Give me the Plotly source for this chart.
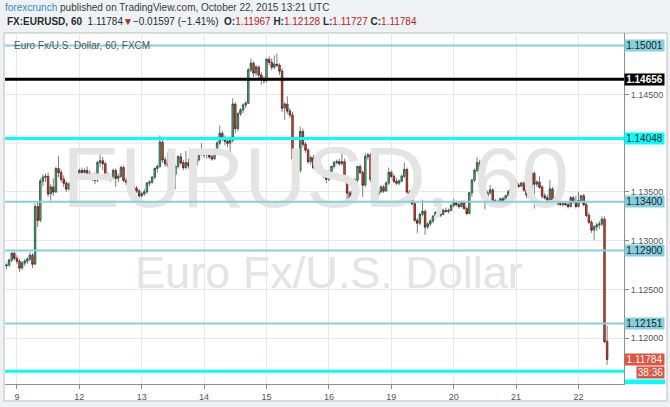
import plotly.graph_objects as go
import pandas as pd

# ---------------- data (hourly EURUSD candles, FXCM) ----------------
opens = [
    1.1274, 1.1275, 1.1280, 1.1287, 1.1282, 1.1279, 1.1272, 1.1277, 1.1279, 1.1281,
    1.1285, 1.1276, 1.1335, 1.1321, 1.1361, 1.1365, 1.1366, 1.1348, 1.1355, 1.1350,
    1.1374, 1.1370, 1.1363, 1.1359, 1.1353, 1.1358, 1.1360, 1.1364, 1.1366, 1.1372,
    1.1370, 1.1372, 1.1369, 1.1365, 1.1367, 1.1362, 1.1380, 1.1382, 1.1379, 1.1366,
    1.1364, 1.1366, 1.1372, 1.1364, 1.1366, 1.1375, 1.1362, 1.1360, 1.1356, 1.1353,
    1.1354, 1.1351, 1.1346, 1.1348, 1.1350, 1.1359, 1.1360, 1.1365, 1.1374, 1.1376,
    1.1401, 1.1383, 1.1379, 1.1377, 1.1370, 1.1368, 1.1376, 1.1386, 1.1380, 1.1375,
    1.1380, 1.1377, 1.1379, 1.1377, 1.1383, 1.1393, 1.1390, 1.1388, 1.1390, 1.1386,
    1.1384, 1.1391, 1.1400, 1.1410, 1.1404, 1.1402, 1.1400, 1.1403, 1.1440, 1.1415,
    1.1430, 1.1434, 1.1439, 1.1441, 1.1475, 1.1482, 1.1472, 1.1478, 1.1470, 1.1466,
    1.1464, 1.1486, 1.1483, 1.1478, 1.1481, 1.1480, 1.1474, 1.1436, 1.1440, 1.1433,
    1.1429, 1.1384, 1.1370, 1.1372, 1.1412, 1.1399, 1.1393, 1.1381, 1.1385, 1.1375,
    1.1378, 1.1376, 1.1370, 1.1366, 1.1363, 1.1370, 1.1376, 1.1380, 1.1381, 1.1379,
    1.1381, 1.1362, 1.1349, 1.1342, 1.1350, 1.1362, 1.1376, 1.1370, 1.1357, 1.1386,
    1.1388, 1.1363, 1.1353, 1.1347, 1.1350, 1.1355, 1.1351, 1.1359, 1.1370, 1.1366,
    1.1361, 1.1359, 1.1361, 1.1366, 1.1373, 1.1350, 1.1348, 1.1338, 1.1321, 1.1318,
    1.1327, 1.1330, 1.1314, 1.1317, 1.1320, 1.1325, 1.1329, 1.1326, 1.1327, 1.1331,
    1.1330, 1.1331, 1.1336, 1.1339, 1.1337, 1.1335, 1.1339, 1.1333, 1.1328, 1.1349,
    1.1362, 1.1372, 1.1380, 1.1369, 1.1354, 1.1342, 1.1349, 1.1352, 1.1341, 1.1338,
    1.1340, 1.1343, 1.1337, 1.1346, 1.1350, 1.1353, 1.1360, 1.1357, 1.1356, 1.1359,
    1.1352, 1.1347, 1.1345, 1.1369, 1.1358, 1.1360, 1.1355, 1.1346, 1.1344, 1.1342,
    1.1353, 1.1342, 1.1339, 1.1338, 1.1337, 1.1338, 1.1337, 1.1335, 1.1344, 1.1340,
    1.1335, 1.1341, 1.1346, 1.1337, 1.1326, 1.1319, 1.1311, 1.1314, 1.1316, 1.1317,
    1.1322, 1.11967,
]
highs = [
    1.1277, 1.1281, 1.1288, 1.1289, 1.1285, 1.1281, 1.1279, 1.1281, 1.1283, 1.1288,
    1.1287, 1.1338, 1.1340, 1.1364, 1.1368, 1.1369, 1.1370, 1.1358, 1.1364, 1.1376,
    1.1387, 1.1373, 1.1367, 1.1361, 1.1360, 1.1362, 1.1366, 1.1368, 1.1374, 1.1375,
    1.1374, 1.1376, 1.1372, 1.1369, 1.1370, 1.1382, 1.1395, 1.1386, 1.1381, 1.1370,
    1.1368, 1.1374, 1.1374, 1.1369, 1.1377, 1.1377, 1.1365, 1.1362, 1.1358, 1.1357,
    1.1356, 1.1353, 1.1350, 1.1353, 1.1360, 1.1362, 1.1366, 1.1375, 1.1378, 1.1408,
    1.1403, 1.1386, 1.1390, 1.1380, 1.1373, 1.1378, 1.1388, 1.1390, 1.1383, 1.1392,
    1.1384, 1.1381, 1.1383, 1.1385, 1.1394, 1.1400, 1.1394, 1.1392, 1.1393, 1.1389,
    1.1392, 1.1402, 1.1418, 1.1413, 1.1408, 1.1405, 1.1403, 1.1446, 1.1442, 1.1432,
    1.1436, 1.1441, 1.1443, 1.1477, 1.1487, 1.1484, 1.1480, 1.1480, 1.1473, 1.1469,
    1.1487, 1.1489, 1.1487, 1.1490, 1.1492, 1.1482, 1.1477, 1.1442, 1.1448, 1.1436,
    1.1432, 1.1386, 1.1375, 1.1417, 1.1415, 1.1401, 1.1395, 1.1387, 1.1388, 1.1380,
    1.1380, 1.1378, 1.1372, 1.1368, 1.1372, 1.1377, 1.1382, 1.1383, 1.1384, 1.1393,
    1.1384, 1.1364, 1.1351, 1.1352, 1.1364, 1.1377, 1.1378, 1.1372, 1.1390, 1.1390,
    1.1390, 1.1365, 1.1356, 1.1352, 1.1357, 1.1357, 1.1361, 1.1375, 1.1372, 1.1368,
    1.1364, 1.1363, 1.1368, 1.1380, 1.1375, 1.1352, 1.1350, 1.1340, 1.1323, 1.1328,
    1.1342, 1.1332, 1.1319, 1.1322, 1.1326, 1.1330, 1.1331, 1.1329, 1.1333, 1.1334,
    1.1333, 1.1338, 1.1343, 1.1341, 1.1339, 1.1341, 1.1341, 1.1335, 1.1350, 1.1363,
    1.1374, 1.1386, 1.1383, 1.1371, 1.1356, 1.1351, 1.1357, 1.1354, 1.1343, 1.1342,
    1.1344, 1.1345, 1.1347, 1.1352, 1.1354, 1.1367, 1.1362, 1.1359, 1.1360, 1.1361,
    1.1354, 1.1350, 1.1375, 1.1371, 1.1362, 1.1366, 1.1357, 1.1349, 1.1347, 1.1362,
    1.1355, 1.1344, 1.1341, 1.1340, 1.1339, 1.1340, 1.1339, 1.1346, 1.1346, 1.1346,
    1.1350, 1.1347, 1.1348, 1.1339, 1.1329, 1.1321, 1.1316, 1.1318, 1.1320, 1.1325,
    1.1325, 1.12128,
]
lows = [
    1.1271, 1.1273, 1.1278, 1.1280, 1.1276, 1.1268, 1.1270, 1.1274, 1.1276, 1.1279,
    1.1272, 1.1275, 1.1314, 1.1319, 1.1356, 1.1360, 1.1345, 1.1341, 1.1346, 1.1349,
    1.1365, 1.1360, 1.1355, 1.1350, 1.1351, 1.1356, 1.1357, 1.1361, 1.1364, 1.1368,
    1.1367, 1.1368, 1.1363, 1.1361, 1.1358, 1.1360, 1.1376, 1.1372, 1.1362, 1.1362,
    1.1361, 1.1363, 1.1355, 1.1360, 1.1364, 1.1360, 1.1357, 1.1354, 1.1351, 1.1350,
    1.1349, 1.1343, 1.1344, 1.1346, 1.1348, 1.1356, 1.1358, 1.1363, 1.1370, 1.1375,
    1.1380, 1.1376, 1.1375, 1.1366, 1.1360, 1.1353, 1.1374, 1.1378, 1.1372, 1.1373,
    1.1374, 1.1373, 1.1375, 1.1376, 1.1381, 1.1387, 1.1385, 1.1384, 1.1384, 1.1382,
    1.1383, 1.1389, 1.1398, 1.1402, 1.1398, 1.1396, 1.1390, 1.1401, 1.1410, 1.1412,
    1.1428, 1.1431, 1.1436, 1.1440, 1.1473, 1.1468, 1.1469, 1.1467, 1.1460, 1.1461,
    1.1462, 1.1480, 1.1475, 1.1476, 1.1478, 1.1470, 1.1432, 1.1424, 1.1430, 1.1426,
    1.1380, 1.1366, 1.1365, 1.1370, 1.1396, 1.1390, 1.1379, 1.1378, 1.1373, 1.1373,
    1.1374, 1.1368, 1.1364, 1.1359, 1.1361, 1.1369, 1.1374, 1.1378, 1.1377, 1.1377,
    1.1360, 1.1335, 1.1340, 1.1340, 1.1348, 1.1360, 1.1368, 1.1345, 1.1355, 1.1383,
    1.1360, 1.1350, 1.1344, 1.1345, 1.1349, 1.1349, 1.1350, 1.1357, 1.1364, 1.1359,
    1.1357, 1.1357, 1.1360, 1.1364, 1.1348, 1.1345, 1.1336, 1.1319, 1.1308, 1.1316,
    1.1325, 1.1306, 1.1312, 1.1315, 1.1318, 1.1323, 1.1324, 1.1324, 1.1326, 1.1329,
    1.1328, 1.1330, 1.1334, 1.1335, 1.1333, 1.1334, 1.1332, 1.1326, 1.1327, 1.1345,
    1.1360, 1.1370, 1.1367, 1.1352, 1.1332, 1.1340, 1.1347, 1.1339, 1.1336, 1.1337,
    1.1337, 1.1336, 1.1336, 1.1345, 1.1348, 1.1352, 1.1354, 1.1354, 1.1355, 1.1350,
    1.1344, 1.1343, 1.1344, 1.1333, 1.1355, 1.1353, 1.1343, 1.1342, 1.1340, 1.1341,
    1.1340, 1.1337, 1.1336, 1.1336, 1.1335, 1.1336, 1.1333, 1.1334, 1.1338, 1.1333,
    1.1334, 1.1339, 1.1335, 1.1324, 1.1317, 1.1308, 1.1301, 1.1310, 1.1312, 1.1315,
    1.1195, 1.11727,
]
closes = [
    1.1275, 1.1280, 1.1287, 1.1282, 1.1279, 1.1272, 1.1277, 1.1279, 1.1281, 1.1285,
    1.1276, 1.1335, 1.1321, 1.1361, 1.1365, 1.1366, 1.1348, 1.1355, 1.1350, 1.1374,
    1.1370, 1.1363, 1.1359, 1.1353, 1.1358, 1.1360, 1.1364, 1.1366, 1.1372, 1.1370,
    1.1372, 1.1369, 1.1365, 1.1367, 1.1362, 1.1380, 1.1382, 1.1379, 1.1366, 1.1364,
    1.1366, 1.1372, 1.1364, 1.1366, 1.1375, 1.1362, 1.1360, 1.1356, 1.1353, 1.1354,
    1.1351, 1.1346, 1.1348, 1.1350, 1.1359, 1.1360, 1.1365, 1.1374, 1.1376, 1.1401,
    1.1383, 1.1379, 1.1377, 1.1370, 1.1368, 1.1376, 1.1386, 1.1380, 1.1375, 1.1380,
    1.1377, 1.1379, 1.1377, 1.1383, 1.1393, 1.1390, 1.1388, 1.1390, 1.1386, 1.1384,
    1.1391, 1.1400, 1.1410, 1.1404, 1.1402, 1.1400, 1.1403, 1.1440, 1.1415, 1.1430,
    1.1434, 1.1439, 1.1441, 1.1475, 1.1482, 1.1472, 1.1478, 1.1470, 1.1466, 1.1464,
    1.1486, 1.1483, 1.1478, 1.1481, 1.1480, 1.1474, 1.1436, 1.1440, 1.1433, 1.1429,
    1.1384, 1.1370, 1.1372, 1.1412, 1.1399, 1.1393, 1.1381, 1.1385, 1.1375, 1.1378,
    1.1376, 1.1370, 1.1366, 1.1363, 1.1370, 1.1376, 1.1380, 1.1381, 1.1379, 1.1381,
    1.1362, 1.1349, 1.1342, 1.1350, 1.1362, 1.1376, 1.1370, 1.1357, 1.1386, 1.1388,
    1.1363, 1.1353, 1.1347, 1.1350, 1.1355, 1.1351, 1.1359, 1.1370, 1.1366, 1.1361,
    1.1359, 1.1361, 1.1366, 1.1373, 1.1350, 1.1348, 1.1338, 1.1321, 1.1318, 1.1327,
    1.1330, 1.1314, 1.1317, 1.1320, 1.1325, 1.1329, 1.1326, 1.1327, 1.1331, 1.1330,
    1.1331, 1.1336, 1.1339, 1.1337, 1.1335, 1.1339, 1.1333, 1.1328, 1.1349, 1.1362,
    1.1372, 1.1380, 1.1369, 1.1354, 1.1342, 1.1349, 1.1352, 1.1341, 1.1338, 1.1340,
    1.1343, 1.1337, 1.1346, 1.1350, 1.1353, 1.1360, 1.1357, 1.1356, 1.1359, 1.1352,
    1.1347, 1.1345, 1.1369, 1.1358, 1.1360, 1.1355, 1.1346, 1.1344, 1.1342, 1.1353,
    1.1342, 1.1339, 1.1338, 1.1337, 1.1338, 1.1337, 1.1335, 1.1344, 1.1340, 1.1335,
    1.1341, 1.1346, 1.1337, 1.1326, 1.1319, 1.1311, 1.1314, 1.1316, 1.1317, 1.1322,
    1.11967, 1.11784,
]

first_bar = "2015-10-08 20:00"
last_bar = "2015-10-22 11:00"

day_ticks = ["2015-10-09", "2015-10-12", "2015-10-13", "2015-10-14", "2015-10-15",
             "2015-10-16", "2015-10-19", "2015-10-20", "2015-10-21", "2015-10-22"]
day_labels = ["9", "12", "13", "14", "15", "16", "19", "20", "21", "22"]

price_ticks = [1.12, 1.125, 1.13, 1.135, 1.145]      # labelled price-scale ticks
hidden_grid = [1.14, 1.15]                           # grid rows whose labels are covered

level_prices = [1.15001, 1.14656, 1.14048, 1.13400, 1.12900, 1.12151, 1.11662]
level_kinds = ["blue", "black", "cyan", "blue", "blue", "blue", "cyan"]
level_labelled = [True, True, True, True, True, True, False]

last_price = 1.11784
countdown = "38:36"
countdown_price = 1.11643

symbol = "EURUSD, 60"
description = "Euro Fx/U.S. Dollar"
source_title = "Euro Fx/U.S. Dollar, 60, FXCM"

# ---------------- build ----------------
all_hours = pd.date_range(first_bar, last_bar, freq="h")
bar_times = all_hours[all_hours.dayofweek < 5]

W, H = 670, 407
ML, MR, MT, MB = 5, 46, 33, 23
PW, PH = W - ML - MR, H - MT - MB


def fx(px):
    return (px - ML) / PW


def fy(py):
    return (H - MB - py) / PH


FONT = "Liberation Sans, Arial, sans-serif"
UP_FILL, UP_LINE = "#6ba583", "#225437"
DN_FILL, DN_LINE = "#d75442", "#5b1a13"
WICK = "#7d7d80"
LBLUE = "#86cfdf"
CYAN = "#00ffff"
RED = "#e0533f"
GRID = "#e8e8e8"

styles = {
    "blue": dict(line=LBLUE, width=2, bg=LBLUE, fg="#1e1e1e"),
    "black": dict(line="#000000", width=3, bg="#000000", fg="#ffffff"),
    "cyan": dict(line=CYAN, width=3, bg=CYAN, fg="#1e1e1e"),
}

fig = go.Figure()

# watermark (behind candles)
fig.add_trace(go.Scatter(
    x=[bar_times[119]], y=[1.1357], mode="text", text=[symbol],
    textfont=dict(family=FONT, size=86, color="#e4e4e4"),
    hoverinfo="skip", showlegend=False, cliponaxis=False))
fig.add_trace(go.Scatter(
    x=[bar_times[124]], y=[1.1263], mode="text", text=[description],
    textfont=dict(family=FONT, size=45, color="#e4e4e4"),
    hoverinfo="skip", showlegend=False, cliponaxis=False))

# wicks
fig.add_trace(go.Candlestick(
    x=bar_times, open=closes, high=highs, low=lows, close=closes,
    increasing=dict(line=dict(color=WICK, width=1), fillcolor=WICK),
    decreasing=dict(line=dict(color=WICK, width=1), fillcolor=WICK),
    whiskerwidth=0, hoverinfo="skip", showlegend=False))

# bodies
body_hi = [max(o, c) for o, c in zip(opens, closes)]
body_lo = [min(o, c) for o, c in zip(opens, closes)]
fig.add_trace(go.Candlestick(
    x=bar_times, open=opens, high=body_hi, low=body_lo, close=closes,
    increasing=dict(line=dict(color=UP_LINE, width=0.8), fillcolor=UP_FILL),
    decreasing=dict(line=dict(color=DN_LINE, width=0.8), fillcolor=DN_FILL),
    whiskerwidth=0, hoverinfo="skip", showlegend=False))

shapes = []
# white chart panel with border
shapes.append(dict(type="rect", xref="paper", yref="paper",
                   x0=fx(4), x1=fx(667), y0=fy(401), y1=fy(33),
                   fillcolor="white", line=dict(color="#bdbdbd", width=1), layer="below"))
for g in hidden_grid:
    shapes.append(dict(type="line", xref="paper", yref="y", x0=0, x1=1, y0=g, y1=g,
                       line=dict(color=GRID, width=1), layer="between"))
annotations = []

for price, kind, lab in zip(level_prices, level_kinds, level_labelled):
    st = styles[kind]
    shapes.append(dict(type="line", xref="paper", yref="y", x0=0, x1=1,
                       y0=price, y1=price, line=dict(color=st["line"], width=st["width"]),
                       layer="above"))
    if lab:
        txt = f"{price:.5f}"
        if kind == "black":
            txt = f"<b>{txt}</b>"
        annotations.append(dict(
            x=1, xref="paper", xanchor="left", xshift=0, y=price, yref="y",
            text=txt, showarrow=False, bgcolor=st["bg"], width=39, height=11,
            borderpad=0, font=dict(family=FONT, size=10, color=st["fg"])))

# partially hidden label at the bottom
shapes.append(dict(type="rect", xref="paper", yref="paper",
                   x0=fx(625), x1=fx(665), y0=fy(384), y1=fy(379.5),
                   fillcolor=CYAN, line=dict(width=0), layer="above"))

annotations.append(dict(
    x=1, xref="paper", xanchor="left", y=last_price, yref="y",
    text=f"{last_price:.5f}", showarrow=False, bgcolor=RED, width=39, height=11,
    borderpad=0, font=dict(family=FONT, size=10, color="white")))
annotations.append(dict(
    x=fx(665), xref="paper", xanchor="right", y=countdown_price, yref="y",
    text=countdown, showarrow=False, bgcolor=RED, width=27, height=11,
    borderpad=0, font=dict(family=FONT, size=10, color="white")))

# header
annotations.append(dict(
    x=fx(3), y=fy(8), xref="paper", yref="paper", xanchor="left", yanchor="middle",
    showarrow=False, align="left",
    text="<span style='color:#2e8bd0'>forexcrunch</span> published on TradingView.com, "
         "October 22, 2015 13:21 UTC",
    font=dict(family=FONT, size=10, color="#3a3a3a")))
annotations.append(dict(
    x=fx(5), y=fy(22), xref="paper", yref="paper", xanchor="left", yanchor="middle",
    showarrow=False, align="left",
    text="<b>FX:EURUSD, 60</b>  1.11784<span style='color:#c0221c'>▼</span>"
         "−0.01597 (−1.41%)  <b>O:</b><span style='color:#c0221c'>1.11967</span> "
         "<b>H:</b><span style='color:#c0221c'>1.12128</span> "
         "<b>L:</b><span style='color:#c0221c'>1.11727</span> "
         "<b>C:</b><span style='color:#c0221c'>1.11784</span>",
    font=dict(family=FONT, size=10, color="#2a2a2a")))
annotations.append(dict(
    x=fx(12), y=fy(45), xref="paper", yref="paper", xanchor="left", yanchor="middle",
    showarrow=False, text=source_title,
    font=dict(family=FONT, size=10, color="#555555")))

fig.update_layout(
    width=W, height=H,
    margin=dict(l=ML, r=MR, t=MT, b=MB),
    paper_bgcolor="#eef2f5", plot_bgcolor="white",
    shapes=shapes, annotations=annotations,
    showlegend=False, boxgap=0.15,
    xaxis=dict(
        type="date",
        rangebreaks=[dict(bounds=["sat", "mon"])],
        range=["2015-10-08 19:25", "2015-10-22 17:30"],
        tickvals=day_ticks, ticktext=day_labels,
        showgrid=True, gridcolor=GRID, gridwidth=1,
        ticks="outside", ticklen=4, tickcolor="#8a8a8a",
        tickfont=dict(family=FONT, size=9, color="#555555"),
        showline=True, linecolor="#8f8f8f", linewidth=1,
        rangeslider=dict(visible=False), fixedrange=True, zeroline=False),
    yaxis=dict(
        side="right", range=[1.11530, 1.15130],
        tickvals=price_ticks, tickformat=".5f",
        showgrid=True, gridcolor=GRID, gridwidth=1,
        ticks="outside", ticklen=4, tickcolor="#8a8a8a",
        tickfont=dict(family=FONT, size=9, color="#555555"),
        showline=True, linecolor="#8f8f8f", linewidth=1,
        fixedrange=True, zeroline=False),
)

fig.write_html(
    "out.html",
    config={"displayModeBar": False, "staticPlot": True},
    post_script="document.body.style.margin='0';document.body.style.overflow='hidden';",
)
